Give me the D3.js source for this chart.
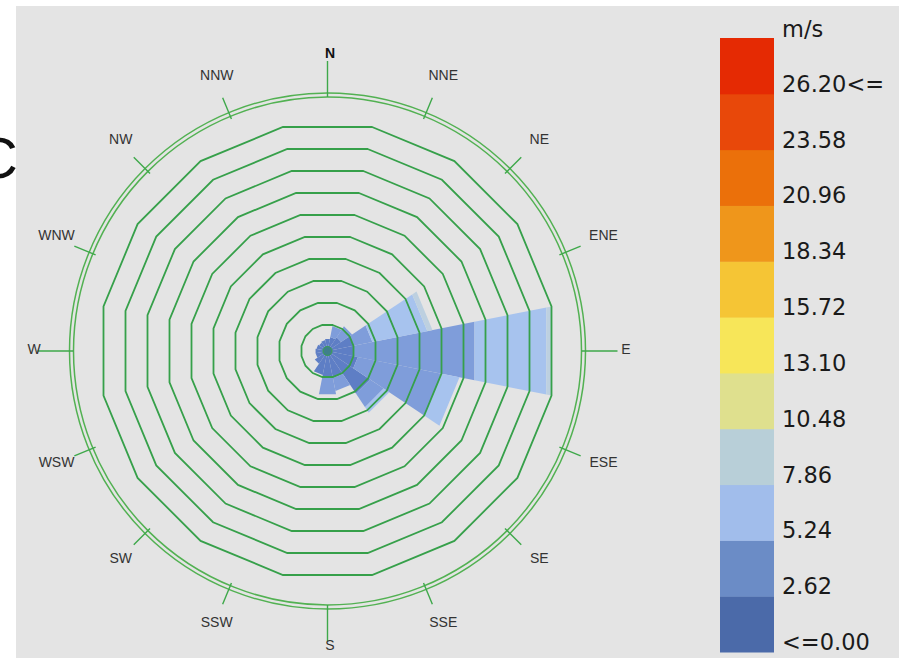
<!DOCTYPE html>
<html>
<head>
<meta charset="utf-8">
<script src="https://cdn.jsdelivr.net/npm/d3@7"></script>
<style>
  html, body { margin: 0; padding: 0; background: #fff; }
  svg { display: block; }
</style>
</head>
<body>
<div id="chart"></div>
<script>
// compass directions, clockwise from north
const directions = ['N', 'NNE', 'NE', 'ENE', 'E', 'ESE', 'SE', 'SSE', 'S', 'SSW', 'SW', 'WSW', 'W', 'WNW', 'NW', 'NNW'];

// legend classes (m/s), lowest first
const speedLabels = ['<=0.00', '2.62', '5.24', '7.86', '10.48', '13.10', '15.72', '18.34', '20.96', '23.58', '26.20<='];
const speedColors = ['#4b6aa9', '#6b8cc6', '#a1bdeb', '#b8cfd8', '#dfe08e', '#f7e659',
                     '#f5c535', '#ef961b', '#eb700a', '#e8480a', '#e52a03'];

// frequency per direction for each speed class (in ring units)
const freqClass0 = [0.36, 0.45, 0.55, 1.0, 1.0, 1.2, 2.1, 1.05, 1.05, 0.91, 0.5, 0.36, 0.36, 0.32, 0.27, 0.32];
const freqClass1 = [0, 0.5, 0.59, 0.86, 5.5, 3.8, 0.73, 0.59, 0.73, 0, 0, 0, 0, 0, 0, 0];
const freqClass2 = [0, 0, 0, 2.5, 3.27, 0.82, 0.3, 0, 0, 0, 0, 0, 0, 0, 0, 0];
const freqClass3 = [0, 0, 0, 0.23, 0.23, 0, 0, 0, 0, 0, 0, 0, 0, 0, 0, 0];

// concentric frequency rings
const ringTicks = [1, 2, 3, 4, 5, 6, 7, 8, 9, 10];

// colours the rose draws the classes in
const petalColors = ['#5e7ec5', '#7f9dda', '#a7c3ee', '#bdd0e0'];

const W = 899, H = 658;
const cx = 327.5, cy = 351;
const half = Math.PI / 16; // half of a 22.5 degree sector

const svg = d3.select('#chart').append('svg')
  .attr('width', W)
  .attr('height', H);

svg.append('rect')
  .attr('x', 16).attr('y', 6)
  .attr('width', W - 16).attr('height', H - 6)
  .attr('fill', '#e4e4e4');

// panel letter, cut by the left edge as in the source figure
svg.append('text')
  .attr('x', -24).attr('y', 178)
  .attr('font-family', 'Liberation Sans, Arial, sans-serif')
  .attr('font-size', 58)
  .attr('fill', '#111')
  .text('C');

const g = svg.append('g').attr('transform', `translate(${cx},${cy})`);

const r = d3.scaleLinear().domain([0, 10]).range([4, 224]);
const angle = d3.scaleBand().domain(directions).range([0, 2 * Math.PI]).align(0);
const dirAngle = d => angle(d); // sector centre sits on the direction itself

const table = directions.map((d, i) => ({
  dir: d,
  c0: freqClass0[i], c1: freqClass1[i], c2: freqClass2[i], c3: freqClass3[i]
}));
const keys = ['c0', 'c1', 'c2', 'c3'];
const stacked = d3.stack().keys(keys)(table);

const line = d3.line();

// petals: flat-ended sectors that follow the 16-sided rings
stacked.forEach((layer, k) => {
  g.append('g').selectAll('path')
    .data(layer.filter(s => s[1] - s[0] > 0))
    .join('path')
    .attr('fill', petalColors[k])
    .attr('d', s => {
      const a = dirAngle(s.data.dir);
      const r0 = r(s[0]) / Math.cos(half);
      const r1 = r(s[1]) / Math.cos(half);
      return line([
        d3.pointRadial(a - half, r0),
        d3.pointRadial(a - half, r1),
        d3.pointRadial(a + half, r1),
        d3.pointRadial(a + half, r0)
      ]) + 'Z';
    });
});

// rings (16-gons, edges centred on each direction)
g.append('g').selectAll('path')
  .data(ringTicks)
  .join('path')
  .attr('fill', 'none')
  .attr('stroke', '#36a04a')
  .attr('stroke-width', 1.8)
  .attr('d', t => line(directions.map(d => d3.pointRadial(dirAngle(d) + half, r(t) / Math.cos(half)))) + 'Z');

// calm centre
g.append('circle')
  .attr('r', 4.5)
  .attr('fill', '#3f7f8c')
  .attr('stroke', '#36a04a')
  .attr('stroke-width', 1);

// outer double circle
[254, 258].forEach(rad => {
  g.append('circle')
    .attr('r', rad)
    .attr('fill', 'none')
    .attr('stroke', '#52b152')
    .attr('stroke-width', 1.5);
});

// direction ticks
const isCardinal = d => d.length === 1;
g.append('g').selectAll('line')
  .data(directions)
  .join('line')
  .attr('x1', d => d3.pointRadial(dirAngle(d), isCardinal(d) ? 254 : 251)[0])
  .attr('y1', d => d3.pointRadial(dirAngle(d), isCardinal(d) ? 254 : 251)[1])
  .attr('x2', d => d3.pointRadial(dirAngle(d), isCardinal(d) ? 290 : 274)[0])
  .attr('y2', d => d3.pointRadial(dirAngle(d), isCardinal(d) ? 290 : 274)[1])
  .attr('stroke', '#3ea84a')
  .attr('stroke-width', 1.4);

// direction labels
g.append('g').selectAll('text')
  .data(directions)
  .join('text')
  .attr('x', d => d3.pointRadial(dirAngle(d), 296)[0] + 2.5)
  .attr('y', d => d3.pointRadial(dirAngle(d), 296)[1] - 2.5)
  .attr('text-anchor', 'middle')
  .attr('dominant-baseline', 'central')
  .attr('font-family', 'Liberation Sans, Arial, sans-serif')
  .attr('font-size', 14)
  .attr('font-weight', d => d === 'N' ? 'bold' : 'normal')
  .attr('fill', d => d === 'N' ? '#111' : '#333')
  .text(d => d);

// legend
const legendX = 720, legendW = 54;
const ly = d3.scaleBand()
  .domain(speedLabels.slice().reverse())
  .range([38, 652]);

const legend = svg.append('g');
legend.selectAll('rect')
  .data(speedLabels)
  .join('rect')
  .attr('x', legendX)
  .attr('y', d => ly(d))
  .attr('width', legendW)
  .attr('height', ly.bandwidth() + 0.5)
  .attr('fill', (d, i) => speedColors[i]);

legend.selectAll('text.lab')
  .data(speedLabels)
  .join('text')
  .attr('class', 'lab')
  .attr('x', 782)
  .attr('y', d => ly(d) + ly.bandwidth() - 2)
  .attr('font-family', 'DejaVu Sans, Verdana, sans-serif')
  .attr('font-size', 22.5)
  .attr('fill', '#1a1a1a')
  .text(d => d);

legend.append('text')
  .attr('x', 782)
  .attr('y', 37)
  .attr('font-family', 'DejaVu Sans, Verdana, sans-serif')
  .attr('font-size', 22.5)
  .attr('fill', '#1a1a1a')
  .text('m/s');
</script>
</body>
</html>
